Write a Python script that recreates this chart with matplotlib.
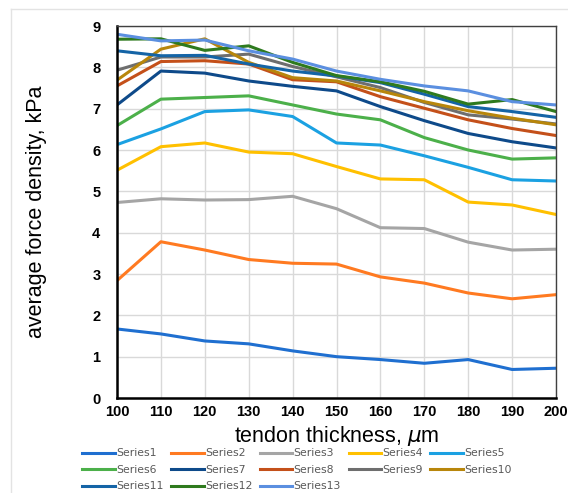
import matplotlib
matplotlib.use("Agg")
import matplotlib.pyplot as plt
from matplotlib.lines import Line2D

plt.rcParams['font.family'] = ['Liberation Sans', 'DejaVu Sans']

thickness = [100, 110, 120, 130, 140, 150, 160, 170, 180, 190, 200]

series = {
    "Series1": [1.67, 1.55, 1.38, 1.31, 1.14, 1.00, 0.93, 0.84, 0.93, 0.69, 0.72],
    "Series2": [2.84, 3.78, 3.58, 3.35, 3.26, 3.24, 2.93, 2.78, 2.54, 2.40, 2.50],
    "Series3": [4.73, 4.82, 4.79, 4.80, 4.88, 4.58, 4.12, 4.10, 3.77, 3.58, 3.60],
    "Series4": [5.51, 6.08, 6.17, 5.95, 5.91, 5.60, 5.30, 5.28, 4.74, 4.67, 4.44],
    "Series5": [6.13, 6.51, 6.93, 6.97, 6.81, 6.17, 6.12, 5.86, 5.58, 5.28, 5.25],
    "Series6": [6.59, 7.23, 7.27, 7.31, 7.09, 6.87, 6.73, 6.30, 6.00, 5.78, 5.81],
    "Series7": [7.09, 7.91, 7.86, 7.67, 7.54, 7.43, 7.05, 6.71, 6.40, 6.20, 6.05],
    "Series8": [7.55, 8.14, 8.16, 8.08, 7.70, 7.65, 7.29, 7.01, 6.73, 6.52, 6.35],
    "Series9": [7.93, 8.25, 8.25, 8.32, 8.02, 7.77, 7.51, 7.15, 6.85, 6.75, 6.63],
    "Series10": [7.69, 8.44, 8.69, 8.12, 7.75, 7.67, 7.43, 7.17, 6.95, 6.77, 6.61],
    "Series11": [8.40, 8.28, 8.29, 8.08, 7.91, 7.79, 7.63, 7.35, 7.05, 6.93, 6.79],
    "Series12": [8.68, 8.69, 8.41, 8.52, 8.12, 7.80, 7.65, 7.42, 7.11, 7.22, 6.93],
    "Series13": [8.80, 8.64, 8.66, 8.40, 8.20, 7.91, 7.71, 7.55, 7.43, 7.17, 7.09],
}

colors = ["#1f6fd0", "#ff7a21", "#a5a5a5", "#ffc000", "#1ba1e2", "#4cb04a",
          "#0e4a8a", "#c4501a", "#6e6e6e", "#b8860b", "#1464a6", "#2e7a1e",
          "#5b8fe0"]

fig = plt.figure(figsize=(5.68, 4.93), dpi=100)

# faint chart-area frame (top and left edges visible in the original)
fig.add_artist(Line2D([11 / 568, 1], [1 - 9 / 493, 1 - 9 / 493], color="#e3e3e3", lw=1))
fig.add_artist(Line2D([11 / 568, 11 / 568], [0, 1 - 9 / 493], color="#e3e3e3", lw=1))

ax = fig.add_axes([117 / 568, 1 - 398 / 493, 439 / 568, 372 / 493])

lines = []
for (name, vals), c in zip(series.items(), colors):
    ln, = ax.plot(thickness, vals, color=c, lw=2.2, label=name)
    lines.append(ln)

ax.set_xlim(100, 200)
ax.set_ylim(0, 9)
ax.set_xticks(thickness)
ax.set_yticks(range(10))
ax.grid(color="#d9d9d9", lw=1)
ax.tick_params(length=0, labelsize=10.5, pad=5)
ax.tick_params(axis="y", pad=12)
for lab in ax.get_xticklabels() + ax.get_yticklabels():
    lab.set_fontweight("bold")
for s in ("left", "bottom"):
    ax.spines[s].set_linewidth(1.8)
    ax.spines[s].set_color("black")
for s in ("top", "right"):
    ax.spines[s].set_linewidth(1.0)
    ax.spines[s].set_color("#404040")

ax.set_ylabel("average force density, kPa", fontsize=15.5)
ax.yaxis.set_label_coords(-70 / 439, 0.5)
ax.set_xlabel(r"tendon thickness, $\mu$m", fontsize=15.5, labelpad=4)

# legend is filled column by column, so reorder to get Excel-style rows
order = [0, 5, 10, 1, 6, 11, 2, 7, 12, 3, 8, 4, 9]
leg = fig.legend([lines[i] for i in order], [lines[i].get_label() for i in order],
                 loc="upper left", bbox_to_anchor=(78 / 568, 1 - 444 / 493),
                 ncol=5, prop={"family": "DejaVu Sans", "size": 7.8},
                 frameon=False, handlelength=3.0, handletextpad=0.12,
                 columnspacing=0.7, labelspacing=0.6, borderaxespad=0)
for t in leg.get_texts():
    t.set_color("#595959")

fig.savefig("out.png", dpi=100)
